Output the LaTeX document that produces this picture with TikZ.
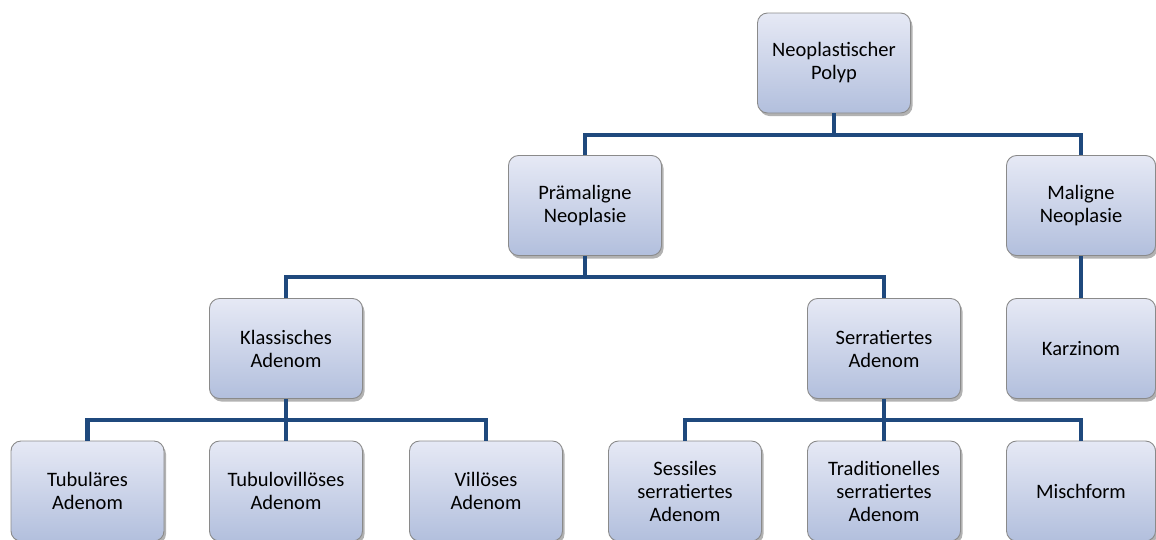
\documentclass[tikz,border=0pt]{standalone}
\usepackage{fontspec}
\setmainfont{Carlito}
\usetikzlibrary{shadows}
\definecolor{linec}{HTML}{1F497D}
\definecolor{boxtop}{HTML}{E6E9F5}
\definecolor{boxbot}{HTML}{B2BFDD}
\definecolor{boxborder}{HTML}{8A8A8A}
\begin{document}
\begin{tikzpicture}[x=1pt,y=-1pt,
  box/.style={rectangle, rounded corners=10pt, draw=boxborder, line width=0.9pt,
    top color=boxtop, bottom color=boxbot,
    minimum width=153pt, minimum height=100pt, text width=148pt, inner sep=0pt,
    align=center, font=\fontsize{20.5}{23}\selectfont,
    drop shadow={shadow xshift=2pt, shadow yshift=-3pt, fill=black, opacity=0.3}},
  conn/.style={draw=linec, line width=4.6pt}]
\clip (0,0) rectangle (1156,539);
\useasboundingbox (0,0) rectangle (1156,539);
% level 1
\node[box] (top) at (834,63) {Neoplastischer\\Polyp};
% level 2
\node[box] (pram) at (585,205.5) {Prämaligne\\Neoplasie};
\node[box, minimum width=149pt] (mal) at (1081,205.5) {Maligne\\Neoplasie};
% level 3
\node[box] (klass) at (286,348.5) {Klassisches\\Adenom};
\node[box] (serr) at (884,348.5) {Serratiertes\\Adenom};
\node[box, minimum width=149pt] (karz) at (1081,348.5) {Karzinom};
% level 4
\node[box] (tub) at (87.5,491) {Tubuläres\\Adenom};
\node[box] (tubv) at (286,491) {Tubulovillöses\\Adenom};
\node[box] (vil) at (486,491) {Villöses\\Adenom};
\node[box] (sess) at (685,491) {Sessiles\\serratiertes\\Adenom};
\node[box] (trad) at (884,491) {Traditionelles\\serratiertes\\Adenom};
\node[box, minimum width=149pt] (misch) at (1081,491) {Mischform};
% bars
\coordinate (b1) at (834,135);
\coordinate (b2) at (585,277);
\coordinate (b3) at (286,420);
\coordinate (b4) at (884,420);
% connectors
\draw[conn] (top.south) -- (b1);
\draw[conn] (pram.north) |- (b1) -| (mal.north);
\draw[conn] (pram.south) -- (b2);
\draw[conn] (klass.north) |- (b2) -| (serr.north);
\draw[conn] (mal.south) -- (karz.north);
\draw[conn] (klass.south) -- (tubv.north);
\draw[conn] (tub.north) |- (b3) -| (vil.north);
\draw[conn] (serr.south) -- (trad.north);
\draw[conn] (sess.north) |- (b4) -| (misch.north);
\end{tikzpicture}
\end{document}
